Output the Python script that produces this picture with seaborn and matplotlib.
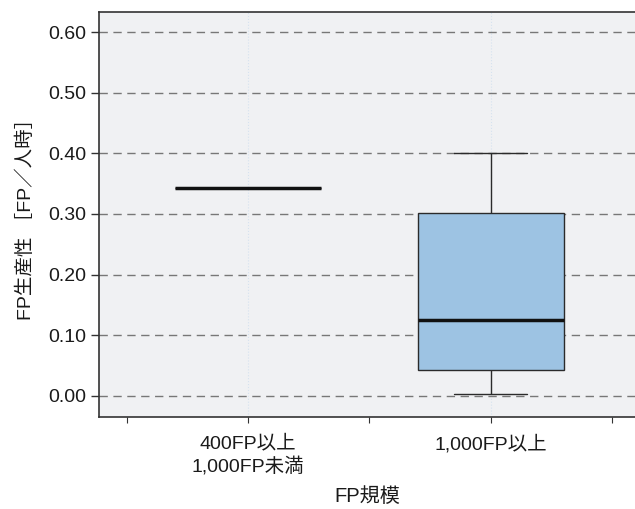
"""
FP productivity by project size - box plot
"""

import pandas as pd
import matplotlib.pyplot as plt
import matplotlib.ticker as mticker
import seaborn as sns

# Data
categories = ["400FP以上\n1,000FP未満", "1,000FP以上"]
small_values = [0.343]
large_values = [0.003, 0.043, 0.125, 0.301, 0.400]
y_ticks = [0.0, 0.1, 0.2, 0.3, 0.4, 0.5, 0.6]

BOX_COLOR = "#9dc3e3"
BG_COLOR = "#f0f1f3"
EDGE = "#2b2b2b"
TEXT = "#1a1a1a"

df = pd.DataFrame({
    "size": [categories[0]] * len(small_values) + [categories[1]] * len(large_values),
    "productivity": small_values + large_values,
})

sns.set_style("white")
plt.rcParams["font.family"] = ["Liberation Sans", "Noto Sans CJK JP", "DejaVu Sans"]

fig = plt.figure(figsize=(6.35, 5.09), dpi=100)
ax = fig.add_axes([0.156, 0.181, 0.844, 0.795])
ax.set_facecolor(BG_COLOR)

sns.boxplot(
    data=df, x="size", y="productivity", order=categories,
    color=BOX_COLOR, saturation=1, width=0.6, whis=1.5, showfliers=False, ax=ax,
    boxprops=dict(edgecolor=EDGE, linewidth=1.0),
    whiskerprops=dict(color=EDGE, linewidth=1.0),
    capprops=dict(color=EDGE, linewidth=1.0),
    medianprops=dict(color="#111111", linewidth=2.5),
    zorder=3,
)

# Gridlines
ax.set_axisbelow(True)
ax.yaxis.grid(True, linestyle=(0, (6, 4)), color="#777777", linewidth=1.0)
ax.xaxis.grid(True, linestyle=":", color="#d6e2ef", linewidth=0.8)

ax.set_ylim(-0.035, 0.633)
ax.set_xlim(-0.613, 1.593)
ax.set_yticks(y_ticks)
ax.yaxis.set_major_formatter(mticker.FormatStrFormatter("%.2f"))
ax.xaxis.set_minor_locator(mticker.FixedLocator([-0.5, 0.5, 1.5]))

ax.tick_params(axis="y", which="major", direction="out", length=6, width=1,
               color="#333333", labelsize=14, labelcolor=TEXT, pad=3, left=True)
ax.tick_params(axis="x", which="both", direction="out", length=4, width=0.8,
               color="#333333", labelsize=14, labelcolor=TEXT, pad=9, bottom=True)
for lbl in ax.get_xticklabels():
    lbl.set_linespacing(1.3)

for side in ["left", "bottom", "top"]:
    ax.spines[side].set_visible(True)
    ax.spines[side].set_color("#333333")
    ax.spines[side].set_linewidth(1.2)
ax.spines["right"].set_visible(False)

ax.set_xlabel("FP規模", fontsize=14.5, color=TEXT, labelpad=8)
ax.set_ylabel("FP生産性 ［FP／人時］", fontsize=14, color=TEXT, labelpad=10)

fig.savefig("out.png", dpi=100, facecolor="white")
